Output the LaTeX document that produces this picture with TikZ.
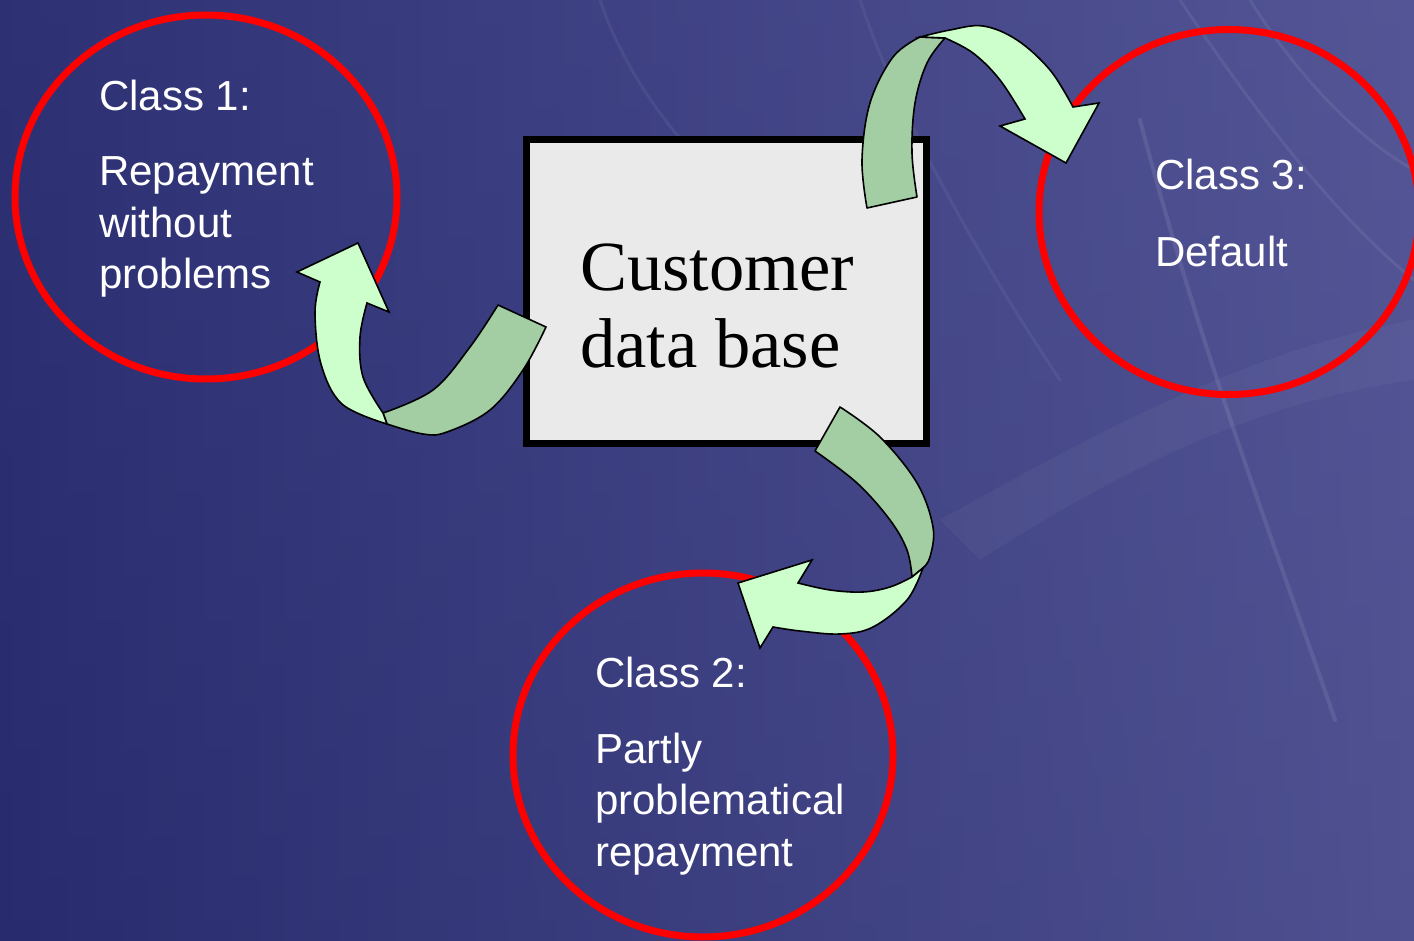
\documentclass[tikz,border=0pt]{standalone}
\usepackage{fontspec}
\setmainfont{Liberation Serif}
\newfontfamily\labelsans{Liberation Sans}
\usetikzlibrary{shapes.geometric}

\definecolor{bgdark}{HTML}{282C6E}
\definecolor{bgmid}{HTML}{3E4187}
\definecolor{bglight}{HTML}{5C5D9C}
\definecolor{ringred}{HTML}{FF0000}
\definecolor{boxgray}{HTML}{EAEAEA}
\definecolor{ribbonlight}{HTML}{CCFFCC}
\definecolor{ribbondark}{HTML}{A3CDA3}

\begin{document}
\begin{tikzpicture}[x=1pt,y=-1pt,
  classring/.style={ellipse, draw=ringred, line width=7pt, inner sep=0pt},
  classtext/.style={anchor=base west, inner sep=0pt, text=white, align=left,
    font=\labelsans\fontsize{42}{51.5}\selectfont},
  dbbox/.style={draw=black, fill=boxgray, line width=7pt, inner sep=0pt},
  dbtext/.style={anchor=base west, inner sep=0pt, align=left,
    font=\fontsize{70.5}{77}\selectfont},
  ribbonback/.style={fill=ribbondark, draw=black, line width=1.6pt, line join=round},
  ribbonfront/.style={fill=ribbonlight, draw=black, line width=1.6pt, line join=miter},
  haze/.style={draw=white, line cap=round},
]
\useasboundingbox (0,0) rectangle (1414,941);
\begin{scope}
\clip (0,0) rectangle (1414,941);
% background: dark blue on the left, lighter violet to the right
\shade[left color=bgdark, right color=bglight] (0,0) rectangle (1414,941);
\shade[top color=bgmid, bottom color=bgdark, opacity=0.25] (0,0) rectangle (1414,941);
% faint blades and the pale wave across the right half
\draw[haze, opacity=0.09, line width=4pt] (1140,120) .. controls (1200,350) and (1280,560) .. (1335,720);
\draw[haze, opacity=0.07, line width=3pt] (1180,0) .. controls (1260,120) and (1340,220) .. (1414,280);
\draw[haze, opacity=0.07, line width=3pt] (1250,0) .. controls (1300,80) and (1360,140) .. (1414,170);
\draw[haze, opacity=0.06, line width=3pt] (860,0) .. controls (900,120) and (980,260) .. (1060,380);
\draw[haze, opacity=0.06, line width=3pt] (600,0) .. controls (620,60) and (660,120) .. (700,160);
\fill[white, opacity=0.04] (940,520) .. controls (1100,430) and (1250,350) .. (1414,320)
  -- (1414,380) .. controls (1260,400) and (1120,470) .. (980,560) -- cycle;
\end{scope}

% the three classes
\node[classring, minimum width=382pt, minimum height=364pt] (ring1) at (206,197) {};
\node[classring, minimum width=380pt, minimum height=365pt] (ring3) at (1229,212) {};
\node[classring, minimum width=380pt, minimum height=364pt] (ring2) at (703,755) {};

% multi-line labels are placed by the baseline of their last line
\node[classtext] (c1head) at (99,111) {Class 1:};
\node[classtext] (c1body) at (99,289) {Repayment\\without\\problems};
\node[classtext] (c3head) at (1155,190) {Class 3:};
\node[classtext] (c3body) at (1155,267) {Default};
\node[classtext] (c2head) at (595,687) {Class 2:};
\node[classtext] (c2body) at (595,866) {Partly\\problematical\\repayment};

% the customer data base
\node[dbbox, minimum width=400pt, minimum height=303pt] (db) at (726,291.5) {};
\node[dbtext] (dbname) at (580,367) {Customer\\data base};

% curved ribbon arrow to class 1
\draw[ribbonback] (498,305) -- plot[smooth, tension=0.6] coordinates
  {(546,327) (523,370) (490,410) (447,432) (423,434) (387,424)}
  -- plot[smooth, tension=0.6] coordinates {(383,413) (433,390) (470,347) (498,305)} -- cycle;
\draw[ribbonfront] plot[smooth, tension=0.6] coordinates
  {(387,424) (342,404) (321,364) (315,313) (320,282)}
  -- (297,272) -- (358,243) -- (389,312) -- (367,303)
  -- plot[smooth, tension=0.6] coordinates {(367,303) (360,337) (363,377) (383,413)} -- cycle;

% curved ribbon arrow to class 3
\draw[ribbonback] (867,208) -- plot[smooth, tension=0.6] coordinates
  {(917,197) (912,153) (915,103) (927,63) (945,38)}
  -- plot[smooth, tension=0.6] coordinates {(920,37) (893,57) (870,103) (862,160) (867,208)} -- cycle;
\draw[ribbonfront] plot[smooth, tension=0.6] coordinates
  {(920,37) (950,30) (983,26) (1017,40) (1050,70) (1073,107)}
  -- (1099,103) -- (1066,163) -- (1000,126) -- (1025,119)
  -- plot[smooth, tension=0.6] coordinates {(1025,119) (1000,80) (973,53) (945,38)} -- cycle;

% curved ribbon arrow to class 2
\draw[ribbonback] (815,451) -- plot[smooth, tension=0.6] coordinates
  {(840,407) (880,437) (917,483) (933,527) (930,557) (923,568)}
  -- plot[smooth, tension=0.6] coordinates {(912,577) (907,550) (890,520) (857,483) (815,451)} -- cycle;
\draw[ribbonfront] plot[smooth, tension=0.6] coordinates
  {(923,568) (907,600) (873,627) (840,634) (800,631) (773,627)}
  -- (760,648) -- (738,583) -- (812,560) -- (798,583)
  -- plot[smooth, tension=0.6] coordinates {(798,583) (830,590) (863,592) (890,587) (912,577)} -- cycle;
\end{tikzpicture}
\end{document}
